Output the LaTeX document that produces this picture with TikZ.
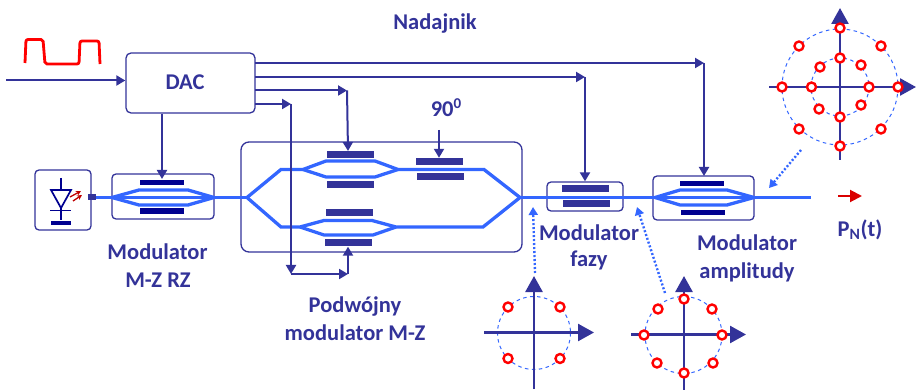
\documentclass[tikz,border=0pt]{standalone}
\usepackage{fontspec}
\setmainfont{Carlito}
\usetikzlibrary{arrows.meta,calc}
\definecolor{dblue}{HTML}{333399}
\definecolor{fibre}{HTML}{3366FF}
\definecolor{navy}{HTML}{000090}
\definecolor{sigred}{HTML}{FF0000}
\tikzset{
  blockbox/.style={draw=dblue,line width=1.3pt,rounded corners=#1,inner sep=0pt,fill=none},
  blockbox/.default=4pt,
  label text/.style={text=dblue,font=\bfseries\fontsize{22.5}{26}\selectfont,inner sep=0pt,align=center},
  plate/.style={fill=dblue,draw=none,inner sep=0pt,minimum width=47pt,minimum height=7pt},
  navyplate/.style={fill=navy,draw=none,inner sep=0pt,minimum width=44pt,minimum height=5.5pt},
  fibreline/.style={draw=fibre,line width=3.3pt,line join=miter},
  ctl/.style={draw=dblue,line width=2pt,-{Triangle[length=9pt,width=10pt]}},
  ctlplain/.style={draw=dblue,line width=2pt},
  dotarrow/.style={draw=fibre,line width=2.4pt,dash pattern=on 2pt off 2pt,-{Triangle[length=8pt,width=9pt,fill=fibre]}},
  axis/.style={draw=dblue,line width=2.6pt,-{Triangle[length=16pt,width=17pt]}},
  axisdot/.style={circle,draw=sigred,fill=white,line width=2.4pt,minimum size=9pt,inner sep=0pt},
  dashcircle/.style={draw=fibre,line width=1pt,dash pattern=on 3.5pt off 3.5pt},
  diodeline/.style={draw=navy,line width=1.7pt},
}
\begin{document}
\begin{tikzpicture}[x=1pt,y=-1pt]
\useasboundingbox (0,0) rectangle (916,390);
% fibre
\coordinate (f0) at (91,197.5);
\coordinate (fa) at (214,197.5);
\coordinate (fb) at (247,197.5);
\coordinate (fc) at (520,197.5);
\coordinate (fd) at (655,197.5);
\coordinate (fe) at (754,197.5);
\coordinate (ff) at (811,197.5);
\coordinate (m1a) at (112,197.5);
% boxes
\node[blockbox=5pt,minimum width=129pt,minimum height=60pt] (dac) at (190.5,83) {};
\node[label text] (dactext) at (185,82) {DAC};
\node[blockbox,minimum width=56pt,minimum height=60pt] (laser) at (63,200) {};
\node[blockbox,minimum width=102pt,minimum height=45pt] (mod1) at (163,196.5) {};
\node[blockbox=8pt,minimum width=281pt,minimum height=110pt] (dual) at (381.5,197) {};
\node[blockbox,minimum width=76pt,minimum height=29pt] (phase) at (585,196.5) {};
\node[blockbox,minimum width=101pt,minimum height=44pt] (mod3) at (703.5,198) {};
% fibres
\draw[fibreline] (f0) -- (fb);
\draw[fibreline] (fc) -- (ff);
% modulator 1
\draw[fibreline] (m1a) -- (139,190) -- (188,190) -- (fa) -- (188,205) -- (139,205) -- cycle;
\node[navyplate] (p1a) at (162,182.5) {};
\node[navyplate] (p1b) at (162,211) {};
% dual modulator
\draw[fibreline] (fb) -- (281,169.5) -- (303,169.5) -- (326,161) -- (375,161) -- (398,169.5) -- (484,169.5) -- (fc);
\draw[fibreline] (303,169.5) -- (326,177) -- (375,177) -- (398,169.5);
\draw[fibreline] (fb) -- (281,227) -- (300,227) -- (324,220.5) -- (372,220.5) -- (396,227) -- (483,227) -- (fc);
\draw[fibreline] (300,227) -- (324,235) -- (373,235) -- (396,227);
\node[plate] (u1) at (350.5,154.5) {};
\node[plate] (u2) at (350.5,185) {};
\node[plate] (l1) at (349,212.5) {};
\node[plate] (l2) at (348.5,243) {};
\node[plate] (s1) at (439.5,161.5) {};
\node[plate] (s2) at (440.5,177) {};
% phase modulator
\node[plate] (ph1) at (585.5,189) {};
\node[plate] (ph2) at (586.5,204) {};
% amplitude modulator
\draw[fibreline] (fd) -- (680,190) -- (727,190) -- (fe) -- (727,205) -- (680,205) -- cycle;
\node[navyplate] (a1) at (702,183.5) {};
\node[navyplate] (a2) at (702.5,212.5) {};
% laser symbol
\coordinate (d0) at (61,178);
\coordinate (d1) at (61,190);
\coordinate (d2) at (61,220);
\draw[diodeline] (d0) -- (d1);
\draw[diodeline,line join=miter] (51,190) -- (71,190) -- (61,208) -- cycle;
\draw[diodeline] (61,208) -- (d2);
\draw[diodeline] (50,210.5) -- (71,210.5);
\node[fill=navy,inner sep=0pt,minimum width=20pt,minimum height=4.5pt] (dbar) at (61,223) {};
\draw[draw=sigred!75!black,line width=1.3pt,-{Stealth[length=5pt,width=5pt]}] (70,197) -- (81,191);
\draw[draw=sigred!75!black,line width=1.3pt,-{Stealth[length=5pt,width=5pt]}] (73,201) -- (82,195);
\node[fill=dblue,inner sep=0pt,minimum width=8pt,minimum height=6pt] (conn) at (91.5,197.5) {};
% red waveform
\draw[draw=sigred,line width=2.8pt,rounded corners=2pt] (25,63) -- (26,39.5) -- (43,39.5) -- (45,64) -- (79,64) -- (80,41) -- (99,41) -- (100,64);
% control lines
\coordinate (in) at (6,80.5);
\coordinate (o1) at (255,63);
\coordinate (o2) at (255,77);
\coordinate (o3) at (255,90.5);
\coordinate (o4) at (255,104);
\coordinate (c1) at (704,63);
\coordinate (c2) at (585,77);
\coordinate (c3) at (347,90.5);
\coordinate (c4) at (291,104);
\coordinate (c5) at (291,274);
\coordinate (c6) at (348,274);
\coordinate (n90) at (439,130);
\draw[ctl] (in) -- (dac.west |- in);
\draw[ctl] (dac.south -| 162,0) -- (162,179);
\draw[ctl] (o1) -- (c1);
\draw[ctl] (c1) -- (704,176);
\draw[ctl] (o2) -- (c2);
\draw[ctl] (c2) -- (phase.north -| c2);
\draw[ctl] (o3) -- (c3);
\draw[ctl] (c3) -- (348,151);
\draw[ctl] (o4) -- (c4);
\draw[ctl] (c4) -- (c5);
\draw[ctl] (c5) -- (c6);
\draw[ctl] (c6) -- (l2.south -| c6);
\draw[ctl] (n90) -- (s1.north -| n90);
% output arrow
\coordinate (pa) at (838,196);
\coordinate (pb) at (862,196);
\draw[draw=sigred!85!black,line width=2pt,-{Triangle[length=12pt,width=12pt]}] (pa) -- (pb);
% texts
\node[label text] (t1) at (435,24) {Nadajnik};
\node[label text] (t2) at (446,108) {90\raisebox{8pt}{\fontsize{15}{15}\selectfont 0}};
\node[label text] (t3) at (157.5,252) {Modulator};
\node[label text] (t4) at (158,280) {M-Z RZ};
\node[label text] (t5) at (355,307) {Podwójny};
\node[label text] (t6) at (355,333) {modulator M-Z};
\node[label text] (t7) at (589,233) {Modulator};
\node[label text] (t8) at (589,260) {fazy};
\node[label text] (t9) at (747,243) {Modulator};
\node[label text] (t10) at (747,272) {amplitudy};
\node[label text] (t11) at (860,230) {P\textsubscript{N}(t)};
% dotted arrows
\coordinate (q1a) at (535,273); \coordinate (q1b) at (533,207);
\coordinate (q2a) at (665,293); \coordinate (q2b) at (637,207);
\coordinate (q3a) at (801,150); \coordinate (q3b) at (769,188);
\draw[dotarrow] (q1a) -- (q1b);
\draw[dotarrow] (q2a) -- (q2b);
\draw[dotarrow] (q3a) -- (q3b);
% constellation top right
\coordinate (A) at (840,87);
\draw[dashcircle] (A) circle[radius=58];
\draw[dashcircle] (A) circle[radius=29];
\draw[axis] (769,87) -- (916,87);
\draw[axis] (840,160) -- (840,8);
\foreach \n/\p in {a1/{782,87},a2/{898,87},a3/{840,28},a4/{840,146},a5/{799,46},a6/{881,46},a7/{799,129},a8/{881,129},a9/{811.5,87},a10/{869,87},a11/{840,58},a12/{840,117},a13/{820,67},a14/{861,65},a15/{819,109},a16/{861,105}}
  \node[axisdot] (pt\n) at (\p) {};
% constellation bottom left
\coordinate (B) at (534,333);
\draw[dashcircle] (B) circle[radius=36.5];
\draw[axis] (484,332.5) -- (594,332.5);
\draw[axis] (534,389) -- (534,276);
\foreach \n/\p in {b1/{508,307},b2/{560,307},b3/{508,358.5},b4/{560,358.5}}
  \node[axisdot] (pt\n) at (\p) {};
% constellation bottom middle
\coordinate (C) at (683.5,335);
\draw[dashcircle] (C) circle[radius=38.5];
\draw[axis] (631,334.5) -- (746,334.5);
\draw[axis] (684,390) -- (684,276);
\foreach \n/\p in {c1/{644,335},c2/{722,335},c3/{684,299},c4/{684,373},c5/{658,309},c6/{712,309},c7/{657,363},c8/{713,363}}
  \node[axisdot] (pt\n) at (\p) {};
\end{tikzpicture}
\end{document}
